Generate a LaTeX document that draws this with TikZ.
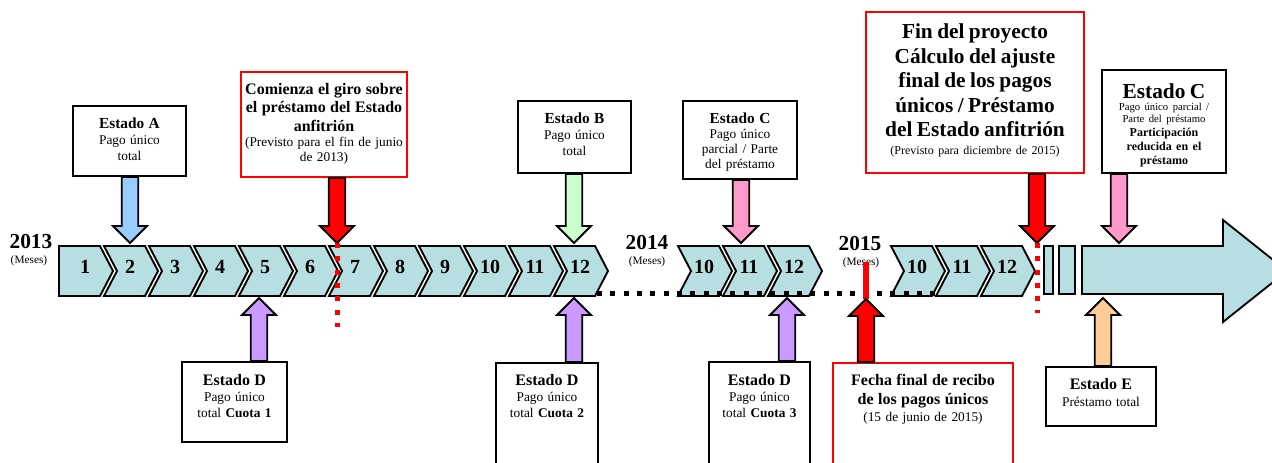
\documentclass[tikz,border=0pt]{standalone}
\usepackage{fontspec}
\setmainfont{Liberation Serif}
\usetikzlibrary{calc,fit}
\definecolor{chevfill}{RGB}{183,222,224}
\definecolor{arrblue}{RGB}{153,204,255}
\definecolor{arrgreen}{RGB}{204,255,204}
\definecolor{arrpink}{RGB}{255,153,204}
\definecolor{arrpurple}{RGB}{204,153,255}
\definecolor{arrorange}{RGB}{255,204,153}

\begin{document}
\begin{tikzpicture}[x=0.75pt,y=-0.75pt]
    \tikzstyle{chev}=[draw,line width=1.4pt,fill=chevfill]
    \tikzstyle{month}=[font=\fontsize{15}{15}\selectfont\bfseries,inner sep=0pt]
    \tikzstyle{year}=[font=\fontsize{16}{16}\selectfont\bfseries,inner sep=0pt]
    \tikzstyle{meses}=[font=\fontsize{8.5}{9}\selectfont,inner sep=0pt]
    \tikzstyle{box}=[draw,line width=1.3pt,fill=white,inner sep=0pt]
    \tikzstyle{red box}=[box,draw=red]
    \tikzstyle{annot}=[inner sep=0pt,execute at begin node=\centering]
    \tikzstyle{block arrow}=[draw,line width=1.4pt,to path={let \p1=(\tikztostart), \p2=(\tikztotarget),
        \p3=($(\p2)!12.75pt!(\p1)$) in (\x2-6.2pt,\y1) -- (\x2+6.2pt,\y1) -- (\x2+6.2pt,\y3)
        -- (\x2+12.75pt,\y3) -- (\x2,\y2) -- (\x2-12.75pt,\y3) -- (\x2-6.2pt,\y3) -- cycle}]
    \tikzstyle{dots}=[line width=3.75pt,dash pattern=on 3.75pt off 6.25pt]

    \useasboundingbox (0,0) rectangle (1272,463);
    \clip (0,0) rectangle (1272,463);

    % Months of 2013
    \foreach \m in {1,...,12} {
        \pgfmathsetmacro\lx{59+(\m-1)*45}
        \pgfmathsetmacro\nt{\m==1 ? 0 : 13}
        \draw[chev] (\lx,246) -- (\lx+41,246) -- (\lx+54,271) -- (\lx+41,296) -- (\lx,296) -- (\lx+\nt,271) -- cycle;
        \node[month] (m13-\m) at (\lx+26,267) {\m};
    }
    % Months of 2014 and 2015
    \foreach \m in {10,11,12} {
        \pgfmathsetmacro\lx{678+(\m-10)*45}
        \draw[chev] (\lx,246) -- (\lx+41,246) -- (\lx+54,271) -- (\lx+41,296) -- (\lx,296) -- (\lx+13,271) -- cycle;
        \node[month] (m14-\m) at (\lx+26,267) {\m};
        \pgfmathsetmacro\lx{891+(\m-10)*45}
        \draw[chev] (\lx,246) -- (\lx+41,246) -- (\lx+54,271) -- (\lx+41,296) -- (\lx,296) -- (\lx+13,271) -- cycle;
        \node[month] (m15-\m) at (\lx+26,267) {\m};
    }

    % Rest of the time line
    \draw[chev] (1044,246) rectangle (1053,294);
    \draw[chev] (1059,246) rectangle (1075,294);
    \draw[chev] (1082,246) -- (1223,246) -- (1223,220) -- (1287,271) -- (1223,322) -- (1223,294) -- (1082,294) -- cycle;

    \node[year] (y13) at (31,242) {2013};
    \node[meses] (y13-m) at (29,261) {(Meses)};
    \node[year] (y14) at (647,243) {2014};
    \node[meses] (y14-m) at (647,262) {(Meses)};
    \node[year] (y15) at (860,244) {2015};
    \node[meses] (y15-m) at (861,263) {(Meses)};

    \draw[dots] (597,294) -- (935,294);

    % Upper boxes
    \node[box,fit={(73,106) (186,176)}] (estA) {};
    \node[annot,text width=84pt] (estA-t) at (129.5,139.5)
        {{\fontsize{11.5}{13}\selectfont\bfseries Estado A\par}{\fontsize{10}{12}\selectfont Pago único\\total\par}};
    \node[red box,fit={(241,72) (407,177)}] (giro) {};
    \node[annot,text width=124pt] (giro-t) at (324,124)
        {{\fontsize{12}{13.9}\selectfont\bfseries Comienza el giro sobre\\el préstamo del Estado\\anfitrión\par}%
         {\fontsize{10}{11.5}\selectfont (Previsto para el fin de junio\\de 2013)\par}};
    \node[box,fit={(518,101) (631,173)}] (estB) {};
    \node[annot,text width=84pt] (estB-t) at (574.5,134)
        {{\fontsize{11.5}{13}\selectfont\bfseries Estado B\par}{\fontsize{10}{12}\selectfont Pago único\\total\par}};
    \node[box,fit={(683,101) (797,179)}] (estC) {};
    \node[annot,text width=85pt] (estC-t) at (740,142.5)
        {{\fontsize{11.5}{13}\selectfont\bfseries Estado C\par}{\fontsize{10}{11.3}\selectfont Pago único\\parcial / Parte\\del préstamo\par}};
    \node[red box,fit={(866,12) (1084,173)}] (fin) {};
    \node[annot,text width=163pt] (fin-t) at (975,90.5)
        {{\fontsize{16}{18.3}\selectfont\bfseries Fin del proyecto\\Cálculo del ajuste\\final de los pagos\\únicos / Préstamo\\del Estado anfitrión\par}%
         {\fontsize{9}{13.5}\selectfont (Previsto para diciembre de 2015)\par}};
    \node[box,fit={(1102,70) (1226,173)}] (estC2) {};
    \node[annot,text width=93pt] (estC2-t) at (1164,125)
        {{\fontsize{16}{18}\selectfont\bfseries Estado C\par}{\fontsize{8}{9}\selectfont Pago único parcial /\\Parte del préstamo\par}%
         {\fontsize{9}{10.5}\selectfont\bfseries Participación\\reducida en el\\préstamo\par}};

    % Lower boxes
    \node[box,fit={(182,362) (287,442)}] (estD1) {};
    \node[annot,text width=78pt] (estD1-t) at (234.5,396.5)
        {{\fontsize{12}{13}\selectfont\bfseries Estado D\par}{\fontsize{10}{12}\selectfont Pago único\\total \textbf{Cuota 1}\par}};
    \node[box,fit={(496,363) (598,480)}] (estD2) {};
    \node[annot,text width=76pt] (estD2-t) at (547,396.5)
        {{\fontsize{12}{13}\selectfont\bfseries Estado D\par}{\fontsize{10}{12}\selectfont Pago único\\total \textbf{Cuota 2}\par}};
    \node[box,fit={(709,362) (810,480)}] (estD3) {};
    \node[annot,text width=76pt] (estD3-t) at (759.5,396)
        {{\fontsize{12}{13}\selectfont\bfseries Estado D\par}{\fontsize{10}{12}\selectfont Pago único\\total \textbf{Cuota 3}\par}};
    \node[red box,fit={(833,363) (1013,480)}] (fecha) {};
    \node[annot,text width=135pt] (fecha-t) at (923,399.5)
        {{\fontsize{12}{14.25}\selectfont\bfseries Fecha final de recibo\\de los pagos únicos\par}%
         {\fontsize{10}{13}\selectfont (15 de junio de 2015)\par}};
    \node[box,fit={(1046,367) (1156,426)}] (estE) {};
    \node[annot,text width=82pt] (estE-t) at (1101,392.5)
        {{\fontsize{12}{13}\selectfont\bfseries Estado E\par}{\fontsize{10}{12.75}\selectfont Préstamo total\par}};

    % Arrow tips on the time line
    \coordinate (tA) at (130,243);
    \coordinate (tGiro) at (337,243);
    \coordinate (tB) at (574,243);
    \coordinate (tC) at (741,243);
    \coordinate (tFin) at (1037,243);
    \coordinate (tC2) at (1119,243);
    \coordinate (tD1) at (259,298);
    \coordinate (tD2) at (574,298);
    \coordinate (tD3) at (787,298);
    \coordinate (tFecha) at (866,299);
    \coordinate (tE) at (1103,298);

    \draw[red,line width=4pt] (866,262) -- (tFecha);

    \draw[block arrow,fill=arrblue] (estA.south -| tA) to (tA);
    \draw[block arrow,fill=red] (giro.south -| tGiro) to (tGiro);
    \draw[block arrow,fill=arrgreen] (estB.south -| tB) to (tB);
    \draw[block arrow,fill=arrpink] (estC.south -| tC) to (tC);
    \draw[block arrow,fill=red] (fin.south -| tFin) to (tFin);
    \draw[block arrow,fill=arrpink] (estC2.south -| tC2) to (tC2);
    \draw[block arrow,fill=arrpurple] (estD1.north -| tD1) to (tD1);
    \draw[block arrow,fill=arrpurple] (estD2.north -| tD2) to (tD2);
    \draw[block arrow,fill=arrpurple] (estD3.north -| tD3) to (tD3);
    \draw[block arrow,fill=red] (fecha.north -| tFecha) to (tFecha);
    \draw[block arrow,fill=arrorange] (estE.north -| tE) to (tE);

    % Red dotted marks
    \draw[dots,red] (tGiro) -- (337,327);
    \draw[dots,red] (tFin) -- (1037,313);
\end{tikzpicture}
\end{document}
